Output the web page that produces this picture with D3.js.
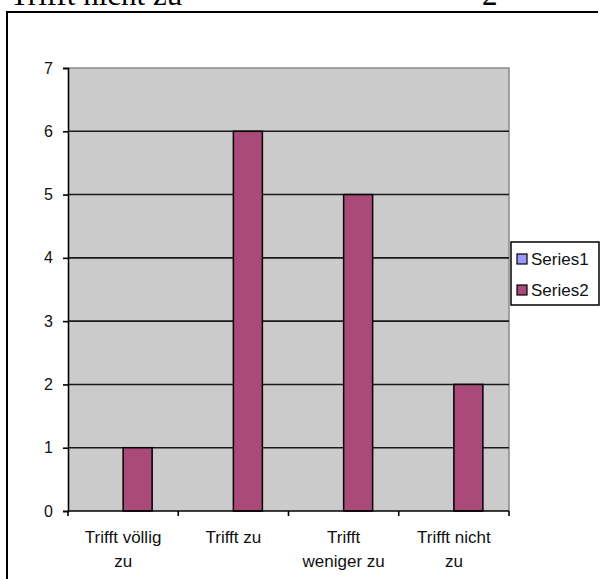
<!DOCTYPE html>
<html>
<head>
<meta charset="utf-8">
<script src="https://cdn.jsdelivr.net/npm/d3@7"></script>
<style>
  html, body { margin: 0; padding: 0; background: #fff; }
  svg { display: block; }
</style>
</head>
<body>
<svg id="chart" width="601" height="579"></svg>
<script>
// Survey answers, one group per category
const categories = ["Trifft völlig zu", "Trifft zu", "Trifft weniger zu", "Trifft nicht zu"];
const categoryLines = [["Trifft völlig", "zu"], ["Trifft zu"], ["Trifft", "weniger zu"], ["Trifft nicht", "zu"]];
const seriesNames = ["Series1", "Series2"];
const series1 = [0, 0, 0, 0];
const series2 = [1, 6, 5, 2];
const yTicks = [0, 1, 2, 3, 4, 5, 6, 7];
const seriesColors = ["#9999ff", "#aa4a78"];

const svg = d3.select("#chart");
const plot = { left: 68, right: 509, top: 68, bottom: 511 };
const sans = "'Liberation Sans', Arial, sans-serif";
const serif = "'Liberation Serif', 'Times New Roman', serif";

// Caption text above the frame (cut off at the top edge)
svg.append("text").attr("x", 10).attr("y", 5)
  .attr("font-family", serif).attr("font-size", 31).attr("fill", "#000")
  .text("Trifft nicht zu");
svg.append("text").attr("x", 482).attr("y", 5)
  .attr("font-family", serif).attr("font-size", 31).attr("fill", "#000")
  .text("2");

// Chart frame: top and left edges
svg.append("line").attr("x1", 6).attr("x2", 598).attr("y1", 12).attr("y2", 12)
  .attr("stroke", "#000").attr("stroke-width", 2);
svg.append("line").attr("x1", 7).attr("x2", 7).attr("y1", 11).attr("y2", 579)
  .attr("stroke", "#000").attr("stroke-width", 2);

const x = d3.scaleBand().domain(categories).range([plot.left, plot.right]).padding(0);
const xs = d3.scaleBand().domain(seriesNames).range([0, x.bandwidth()]).paddingInner(0).paddingOuter(0.9);
const y = d3.scaleLinear().domain([0, 7]).range([plot.bottom, plot.top]);

// Plot area background
svg.append("rect").attr("x", plot.left).attr("y", plot.top)
  .attr("width", plot.right - plot.left).attr("height", plot.bottom - plot.top)
  .attr("fill", "#cbcbcb");

// Plot area border (top and right)
svg.append("path")
  .attr("d", `M${plot.left},${y(7)}H${plot.right}V${plot.bottom}`)
  .attr("fill", "none").attr("stroke", "#8a8a8a").attr("stroke-width", 1.5);

// Horizontal gridlines
svg.append("g").selectAll("line")
  .data(yTicks.filter(d => d > 0 && d < 7))
  .join("line")
  .attr("x1", plot.left).attr("x2", plot.right)
  .attr("y1", d => y(d)).attr("y2", d => y(d))
  .attr("stroke", "#1a1a1a").attr("stroke-width", 1.6);

// Bars
const seriesData = [series1, series2];
const barData = [];
seriesNames.forEach((s, si) => {
  categories.forEach((c, ci) => {
    const v = seriesData[si][ci];
    if (v > 0) barData.push({ s, si, c, v });
  });
});
svg.append("g").selectAll("rect")
  .data(barData)
  .join("rect")
  .attr("x", d => x(d.c) + xs(d.s))
  .attr("y", d => y(d.v))
  .attr("width", xs.bandwidth())
  .attr("height", d => y(0) - y(d.v))
  .attr("fill", d => seriesColors[d.si])
  .attr("stroke", "#000").attr("stroke-width", 1.5);

// Y axis
const yAxis = svg.append("g").attr("transform", `translate(${plot.left},0)`)
  .call(d3.axisLeft(y).tickValues(yTicks).tickSize(5).tickPadding(10).tickFormat(d3.format("d")));
yAxis.select(".domain").attr("stroke", "#000").attr("stroke-width", 1.6);
yAxis.selectAll(".tick line").attr("stroke", "#000").attr("stroke-width", 1.6);
yAxis.selectAll(".tick text").attr("font-family", sans).attr("font-size", 16).attr("fill", "#111");

// X axis with tick marks at category boundaries
const bounds = categories.map(c => x(c)).concat([plot.right]);
svg.append("line").attr("x1", plot.left).attr("x2", plot.right)
  .attr("y1", plot.bottom).attr("y2", plot.bottom)
  .attr("stroke", "#000").attr("stroke-width", 1.6);
svg.append("g").selectAll("line")
  .data(bounds)
  .join("line")
  .attr("x1", d => d).attr("x2", d => d)
  .attr("y1", plot.bottom).attr("y2", plot.bottom + 5)
  .attr("stroke", "#000").attr("stroke-width", 1.6);

// Category labels, wrapped on two lines
const xl = svg.append("g").selectAll("text")
  .data(categories)
  .join("text")
  .attr("x", d => x(d) + x.bandwidth() / 2)
  .attr("y", 543)
  .attr("text-anchor", "middle")
  .attr("font-family", sans).attr("font-size", 17).attr("fill", "#111");
xl.selectAll("tspan")
  .data((d, i) => categoryLines[i])
  .join("tspan")
  .attr("x", function () { return d3.select(this.parentNode).attr("x"); })
  .attr("dy", (d, i) => i === 0 ? 0 : 24)
  .text(d => d);

// Legend
const legend = svg.append("g");
legend.append("rect").attr("x", 511).attr("y", 242).attr("width", 88).attr("height", 63)
  .attr("fill", "#fff").attr("stroke", "#000").attr("stroke-width", 1.5);
const items = legend.selectAll("g.item").data(seriesNames).join("g").attr("class", "item")
  .attr("transform", (d, i) => `translate(0,${i * 31})`);
items.append("rect").attr("x", 517).attr("y", 254).attr("width", 10).attr("height", 10)
  .attr("fill", (d, i) => seriesColors[i]).attr("stroke", "#000").attr("stroke-width", 1.2);
items.append("text").attr("x", 531).attr("y", 265)
  .attr("font-family", sans).attr("font-size", 17).attr("fill", "#111")
  .text(d => d);
</script>
</body>
</html>
